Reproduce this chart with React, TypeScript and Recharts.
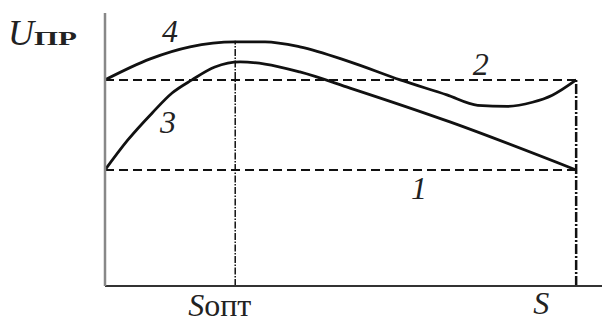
import React from 'react';
import { ComposedChart, Line, XAxis, YAxis, ReferenceLine, ReferenceDot } from 'recharts';

// curve 4 (upper) and curve 3 (lower)
const curve4X = [0, 9.1, 17.1, 26.2, 32.2, 39.2, 49.3, 59.4, 68.8, 75.0, 81.0, 86.0, 90.0, 94.8];
const curve4Y = [75.5, 83.2, 87.6, 89.4, 89.4, 87.6, 82.1, 75.5, 70.0, 66.2, 65.8, 67.3, 69.9, 75.5];
const curve3X = [0, 4.6, 9.5, 13.5, 17.5, 22.1, 27.2, 32.2, 39.2, 49.3, 69.4, 94.8];
const curve3Y = [42.5, 53.5, 63.4, 70.7, 75.5, 80.2, 82.1, 81.3, 78.4, 72.5, 60.1, 42.5];

const levelU2 = 75.5; // dashed line 2
const levelU1 = 42.5; // dashed line 1
const sOpt = 26.2;
const sEnd = 94.8;
const sOptTop = 89.8;

const curveLabels = [
  { x: 13.1, y: 89.4, text: '4' },
  { x: 12.7, y: 56.0, text: '3' },
  { x: 75.6, y: 77.3, text: '2' },
  { x: 63.2, y: 31.9, text: '1' },
];
const xTicks = [sOpt, sEnd];
const yTicks = [89];

const curve4 = curve4X.map((x, i) => ({ x, y: curve4Y[i] }));
const curve3 = curve3X.map((x, i) => ({ x, y: curve3Y[i] }));

const serif = '"Liberation Serif", "DejaVu Serif", serif';

const XTick = (p: any) => {
  if (p.payload.value === sOpt) {
    return (
      <g fontFamily={serif} fontSize={32} fill="#222">
        <text x={p.x - 47} y={p.y + 22} fontStyle="italic">S</text>
        <text x={p.x - 31} y={p.y + 22}>опт</text>
      </g>
    );
  }
  return (
    <text x={p.x - 43} y={p.y + 20} fontFamily={serif} fontStyle="italic" fontSize={32} fill="#222">S</text>
  );
};

const YTick = (p: any) => (
  <g fontFamily={serif} fill="#222">
    <text x={p.x - 89} y={p.y + 2} fontStyle="italic" fontSize={36}>U</text>
    <text x={p.x - 63} y={p.y + 2} fontSize={18} fontWeight={600} textLength={43} lengthAdjust="spacingAndGlyphs">ПР</text>
  </g>
);

const curveLabel = (text: string) => (p: any) => (
  <text x={p.viewBox.x} y={p.viewBox.y} textAnchor="middle" fontFamily={serif} fontStyle="italic" fontSize={32} fill="#222">
    {text}
  </text>
);

export default function App() {
  return (
    <div style={{ position: 'absolute', left: 0, top: 0, background: '#fff' }}>
      <ComposedChart width={602} height={324} margin={{ top: 13, right: 0, bottom: 0, left: 0 }}>
        <XAxis
          type="number"
          dataKey="x"
          domain={[0, 100]}
          ticks={xTicks}
          height={38}
          tickLine={false}
          tick={<XTick />}
          axisLine={{ stroke: '#333', strokeWidth: 2 }}
          allowDataOverflow
        />
        <YAxis
          type="number"
          domain={[0, 100]}
          ticks={yTicks}
          width={105}
          tickLine={false}
          tick={<YTick />}
          axisLine={{ stroke: '#888', strokeWidth: 2.5 }}
          allowDataOverflow
        />
        <ReferenceLine segment={[{ x: 0, y: levelU2 }, { x: sEnd, y: levelU2 }]} stroke="#111" strokeWidth={2} strokeDasharray="9 5" />
        <ReferenceLine segment={[{ x: 0, y: levelU1 }, { x: sEnd, y: levelU1 }]} stroke="#111" strokeWidth={2} strokeDasharray="9 5" />
        <ReferenceLine segment={[{ x: sOpt, y: 0 }, { x: sOpt, y: sOptTop }]} stroke="#111" strokeWidth={1.5} strokeDasharray="7 1.5 1.5 1.5" />
        <ReferenceLine segment={[{ x: sEnd, y: 0 }, { x: sEnd, y: levelU2 }]} stroke="#111" strokeWidth={2.5} strokeDasharray="10 2 2 2" />
        <Line data={curve4} dataKey="y" type="monotone" stroke="#111" strokeWidth={2.8} dot={false} isAnimationActive={false} />
        <Line data={curve3} dataKey="y" type="monotone" stroke="#111" strokeWidth={2.8} dot={false} isAnimationActive={false} />
        {curveLabels.map((l) => (
          <ReferenceDot key={l.text} x={l.x} y={l.y} r={0} fill="none" stroke="none" label={{ content: curveLabel(l.text) }} />
        ))}
      </ComposedChart>
    </div>
  );
}
